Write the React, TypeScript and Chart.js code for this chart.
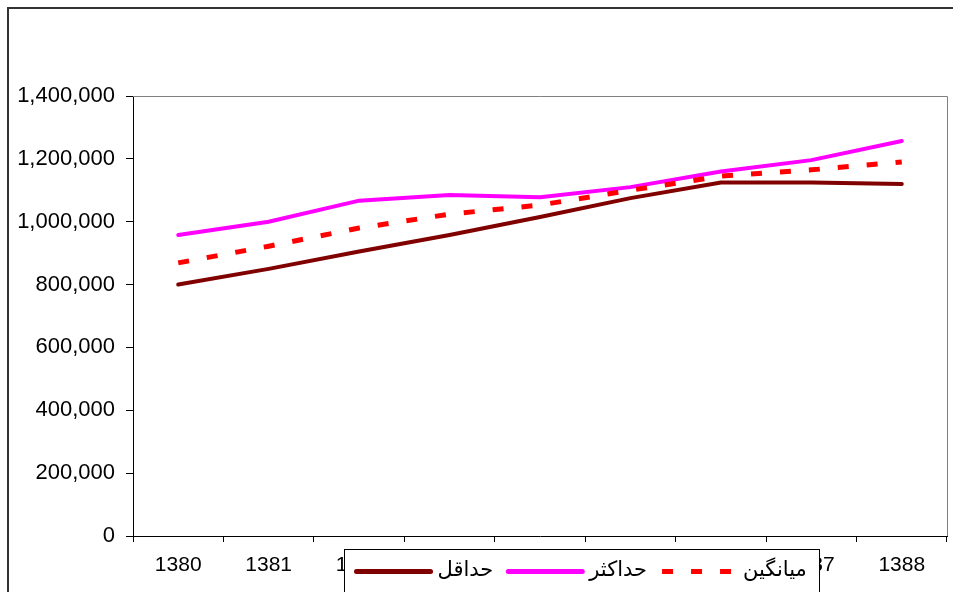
import React, { useEffect, useRef } from "react";
import { Chart, registerables } from "chart.js";

Chart.register(...registerables);

const categories = ["1380", "1381", "1382", "1383", "1384", "1385", "1386", "1387", "1388"];
const minValues = [800000, 850000, 905000, 958000, 1015000, 1075000, 1125000, 1125000, 1120000];
const maxValues = [958000, 1000000, 1067000, 1085000, 1078000, 1110000, 1160000, 1196000, 1257000];
const avgValues = [869000, 922000, 980000, 1024000, 1053000, 1100000, 1145000, 1165000, 1190000];
const seriesLabels = ["حداقل", "حداکثر", "میانگین"];
const yTickValues = [0, 200000, 400000, 600000, 800000, 1000000, 1200000, 1400000];

const FONT = '"Liberation Sans", Arial, "DejaVu Sans", sans-serif';

const decorPlugin = {
  id: "decor",
  beforeDraw(chart: any) {
    const { ctx, width, height } = chart;
    ctx.save();
    ctx.fillStyle = "#ffffff";
    ctx.fillRect(0, 0, width, height);
    ctx.fillStyle = "#333333";
    ctx.fillRect(0, 0, width, 2);
    ctx.fillRect(0, 0, 2, height);
    ctx.restore();
  },
  beforeDatasetsDraw(chart: any) {
    const { ctx, chartArea } = chart;
    ctx.save();
    ctx.strokeStyle = "#808080";
    ctx.lineWidth = 1;
    ctx.beginPath();
    ctx.moveTo(chartArea.left, chartArea.top + 0.5);
    ctx.lineTo(chartArea.right + 0.5, chartArea.top + 0.5);
    ctx.lineTo(chartArea.right + 0.5, chartArea.bottom);
    ctx.stroke();
    ctx.restore();
  },
  afterDraw(chart: any) {
    const { ctx, chartArea } = chart;
    const boxL = Math.round(chartArea.left + 211) + 0.5;
    const boxT = Math.round(chartArea.bottom + 13) + 0.5;
    const boxW = 475;
    ctx.save();
    ctx.fillStyle = "#ffffff";
    ctx.fillRect(boxL, boxT, boxW, 120);
    ctx.strokeStyle = "#000000";
    ctx.lineWidth = 1;
    ctx.strokeRect(boxL, boxT, boxW, 120);
    ctx.font = "21px " + FONT;
    ctx.textBaseline = "middle";
    ctx.textAlign = "left";
    let x = boxL + 10;
    const y = boxT + 22;
    chart.data.datasets.forEach((ds: any) => {
      ctx.save();
      ctx.strokeStyle = ds.borderColor;
      ctx.lineWidth = 5;
      if (ds.borderDash && ds.borderDash.length) {
        ctx.setLineDash([11, 18]);
        ctx.lineCap = "butt";
      } else {
        ctx.lineCap = "round";
      }
      ctx.beginPath();
      ctx.moveTo(x + 2, y);
      ctx.lineTo(x + 76, y);
      ctx.stroke();
      ctx.restore();
      x += 83;
      ctx.fillStyle = "#000000";
      ctx.fillText(ds.label, x, y - 1);
      x += ctx.measureText(ds.label).width + 13;
    });
    ctx.restore();
  },
};

export default function App() {
  const ref = useRef<HTMLCanvasElement | null>(null);
  useEffect(() => {
    if (!ref.current) return;
    const chart = new Chart(ref.current, {
      type: "line",
      data: {
        labels: categories,
        datasets: [
          {
            label: seriesLabels[0],
            data: minValues,
            borderColor: "#800000",
            borderWidth: 4,
            pointRadius: 0,
            tension: 0,
            order: 2,
            borderCapStyle: "round",
          },
          {
            label: seriesLabels[1],
            data: maxValues,
            borderColor: "#FF00FF",
            borderWidth: 4,
            pointRadius: 0,
            tension: 0,
            order: 1,
            borderCapStyle: "round",
          },
          {
            label: seriesLabels[2],
            data: avgValues,
            borderColor: "#FF0000",
            borderWidth: 5,
            borderDash: [11, 18],
            pointRadius: 0,
            tension: 0,
            order: 0,
          },
        ],
      },
      options: {
        responsive: false,
        animation: false,
        layout: { padding: { top: 89, right: 6, left: 0, bottom: 0 } },
        plugins: { legend: { display: false }, tooltip: { enabled: false } },
        scales: {
          x: {
            type: "category",
            offset: true,
            grid: {
              offset: true,
              drawOnChartArea: false,
              drawTicks: true,
              tickLength: 6,
              color: "#000000",
            },
            border: { color: "#000000", width: 1 },
            ticks: {
              color: "#000000",
              font: { family: FONT, size: 21 },
              padding: 11,
              maxRotation: 0,
              autoSkip: false,
            },
            afterFit(scale: any) {
              scale.height = 56;
            },
          },
          y: {
            min: 0,
            max: 1400000,
            grid: {
              drawOnChartArea: false,
              drawTicks: true,
              tickLength: 7,
              color: "#000000",
            },
            border: { color: "#000000", width: 1 },
            afterBuildTicks(scale: any) {
              scale.ticks = yTickValues.map((v) => ({ value: v }));
            },
            ticks: {
              color: "#000000",
              font: { family: FONT, size: 22 },
              padding: 11,
              callback: (v: any) => Number(v).toLocaleString("en-US"),
            },
            afterFit(scale: any) {
              scale.width = 126;
            },
          },
        },
      },
      plugins: [decorPlugin],
    });
    return () => chart.destroy();
  }, []);
  return (
    <div style={{ position: "absolute", left: 7, top: 7, overflow: "hidden" }}>
      <canvas ref={ref} width={946} height={585} style={{ display: "block" }} />
    </div>
  );
}
